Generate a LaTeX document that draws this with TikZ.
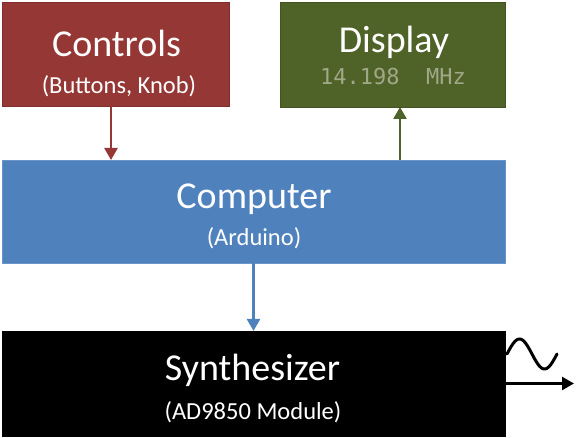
\documentclass[tikz,border=0pt]{standalone}
\usepackage{fontspec}
\setmainfont{Carlito}
\newfontfamily\lcdfont{DejaVu Sans Mono}
\usetikzlibrary{arrows.meta}
\definecolor{ctrlred}{RGB}{149,55,53}
\definecolor{dispgreen}{RGB}{79,98,40}
\definecolor{compblue}{RGB}{79,129,189}
\definecolor{lcdtext}{RGB}{160,168,136}

\begin{document}
\begin{tikzpicture}[x=1pt, y=-1pt,
	box/.style={rectangle, inner sep=0pt, outer sep=0pt, line width=0.8pt},
	title/.style={anchor=base, text=white, font=\fontsize{38}{40}\selectfont},
	subtitle/.style={anchor=base, text=white, font=\fontsize{24.5}{27}\selectfont},
	link/.style={line width=2.4pt, -{Triangle[width=13pt,length=12pt]}}]
	\useasboundingbox (0,0) rectangle (587,438);
	\node at (115.5,54) [box, fill=ctrlred, draw=ctrlred!85!black, minimum width=227pt, minimum height=104pt] (controls) {};
	\node at (392.5,54.5) [box, fill=dispgreen, draw=dispgreen!85!black, minimum width=225pt, minimum height=105pt] (display) {};
	\node at (253.5,211.5) [box, fill=compblue, draw=compblue!85!white, minimum width=503pt, minimum height=103pt] (computer) {};
	\node at (253.5,383.5) [box, fill=black, draw=black, minimum width=503pt, minimum height=105pt] (synth) {};
	\coordinate (out) at (574,383.5);
	
	\node at (116.5,57) [title] (controlsT) {Controls};
	\node at (119,94) [subtitle] (controlsS) {(Buttons, Knob)};
	\node at (394,53) [title] (displayT) {Display};
	\node at (393,85) [anchor=base, text=lcdtext, font=\lcdfont\fontsize{22}{24}\selectfont] (displayS) {14.198\ \ MHz};
	\node at (254,209) [title] (computerT) {Computer};
	\node at (254,246) [subtitle] (computerS) {(Arduino)};
	\node at (252.5,381) [title] (synthT) {Synthesizer};
	\node at (253,420) [subtitle] (synthS) {(AD9850 Module)};
	
	\draw [link, ctrlred] ([xshift=-4.5pt]controls.south) -- ([xshift=-4.5pt]controls.south |- computer.north);
	\draw [link, dispgreen] ([xshift=7.5pt]display.south |- computer.north) -- ([xshift=7.5pt]display.south);
	\draw [link, compblue] (computer.south) -- (synth.north);
	\draw [link, black] (synth.east) -- (out);
	
	\draw [line width=3pt, line cap=round] plot[domain=0:360, samples=50] ({507+\x/7.2}, {354-15*sin(\x)});
\end{tikzpicture}
\end{document}
